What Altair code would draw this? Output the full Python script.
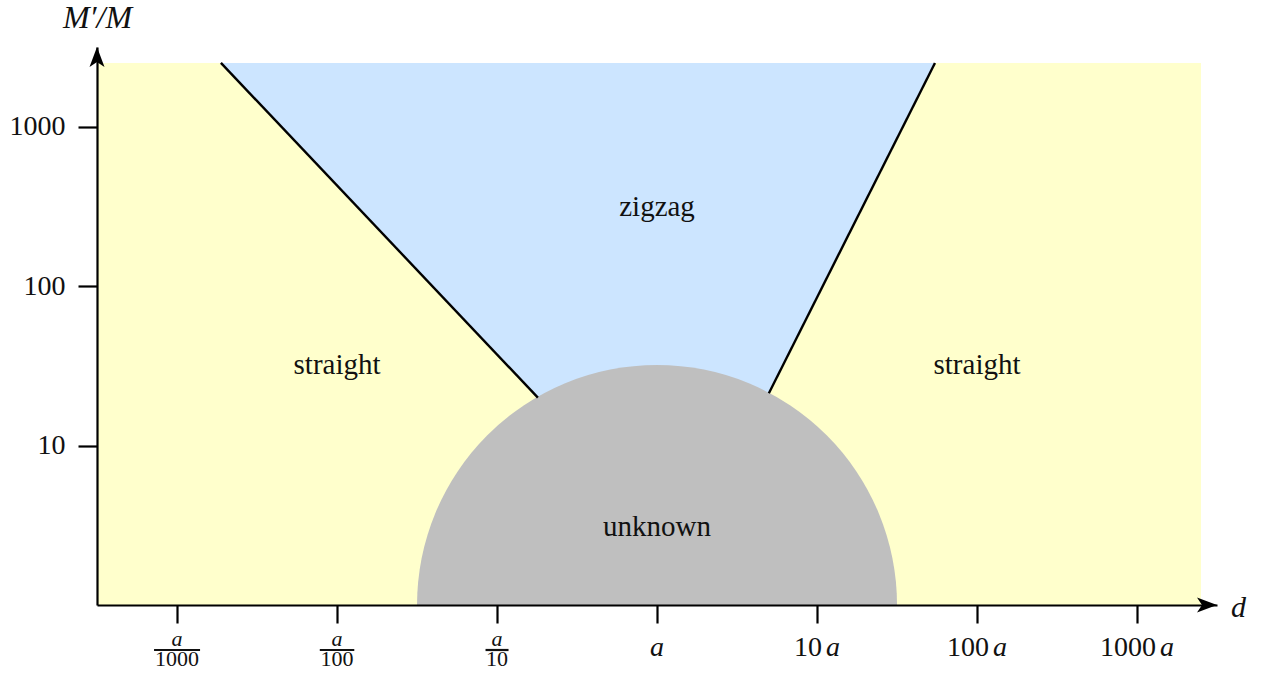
import altair as alt
import pandas as pd

# ---- plot geometry -------------------------------------------------------
W, H = 1120, 558                     # plot area (axis arrows end at its edges)
PAD = {"left": 97, "top": 47, "right": 44, "bottom": 70}
FONT = "Liberation Serif"
INK = "#111111"

# ---- axes: d in units of a, and M'/M --------------------------------------
X_DOMAIN = [0.000316, 3162]
Y_DOMAIN = [1, 3162]
X_TICKS = [0.001, 0.01, 0.1, 1, 10, 100, 1000]
Y_TICKS = [10, 100, 1000]

# fraction labels below the axis: a/1000, a/100, a/10
FRAC_VAL = [0.001, 0.01, 0.1]
FRAC_DEN = ["1000", "100", "10"]
# multiple labels: a, 10 a, 100 a, 1000 a
MULT_VAL = [1, 10, 100, 1000]
MULT_NUM = ["", "10", "100", "1000"]

# ---- regions ---------------------------------------------------------------
# shaded extent of the diagram
SHADE_D = [0.000316, 2512]
SHADE_M = [1, 2512]
# boundary lines between "straight" and "zigzag"
LEFT_D = [0.00188, 0.18]
LEFT_M = [2512, 20]
RIGHT_D = [5.0, 54.6]
RIGHT_M = [21.3, 2512]
TOP_M = 2512
# unknown region: half disc centred at d = a, M'/M = 1, radius 1.5 decades
DISC_D = [1]
DISC_M = [1]
DISC_RADIUS_DECADES = 1.5
# region names
REGION_NAME = ["straight", "zigzag", "straight", "unknown"]
REGION_D = [0.01, 1, 100, 1]
REGION_M = [32, 313, 32, 3.1]

YELLOW = "#ffffcc"
BLUE = "#cce5ff"
GREY = "#bfbfbf"

xs = alt.Scale(type="log", domain=X_DOMAIN, nice=False)
ys = alt.Scale(type="log", domain=Y_DOMAIN, nice=False)

x_axis = alt.Axis(
    values=X_TICKS, labels=False, grid=False,
    tickSize=18, tickWidth=2.2, tickColor="black",
    domainColor="black", domainWidth=2.2, zindex=1,
    title="d", titleFont=FONT, titleFontSize=30, titleFontStyle="italic",
    titleFontWeight="normal", titleColor=INK,
    titleX=W + 21, titleY=2, titleAlign="center", titleBaseline="middle",
)
y_axis = alt.Axis(
    values=Y_TICKS, format="d", grid=False,
    tickSize=19, tickWidth=2.2, tickColor="black",
    domainColor="black", domainWidth=2.2, zindex=1,
    labelFont=FONT, labelFontSize=28, labelColor=INK, labelPadding=13,
    labelOverlap=False, labelFlush=False,
    title="M\u2032/M", titleFont=FONT, titleFontSize=32, titleFontStyle="italic",
    titleFontWeight="normal", titleColor=INK, titleAngle=0,
    titleX=0, titleY=-30, titleAlign="center", titleBaseline="middle",
)


def X(field):
    return alt.X(field, type="quantitative", scale=xs, axis=x_axis)


def Y(field):
    return alt.Y(field, type="quantitative", scale=ys, axis=y_axis)


# background of the diagram
shade = alt.Chart(pd.DataFrame({
    "d": [SHADE_D[0]], "d2": [SHADE_D[1]], "m": [SHADE_M[0]], "m2": [SHADE_M[1]],
})).mark_rect(color=YELLOW).encode(
    x=X("d"), x2="d2", y=Y("m"), y2="m2",
)

# zigzag wedge between the two boundary lines
wedge = alt.Chart(pd.DataFrame({
    "d": LEFT_D + RIGHT_D,
    "m": LEFT_M + RIGHT_M,
    "top": [TOP_M] * 4,
})).mark_area(color=BLUE, opacity=1).encode(
    x=X("d"), y=Y("m"), y2="top",
)

# unknown half disc, the lower half cut off by the plot edge
px_per_decade = W / 7.0
disc = alt.Chart(pd.DataFrame({"d": DISC_D, "m": DISC_M})).mark_point(
    shape="circle", filled=True, color=GREY, opacity=1, strokeWidth=0,
    size=(2 * DISC_RADIUS_DECADES * px_per_decade) ** 2, clip=True,
).encode(x=X("d"), y=Y("m"))

# boundary lines
lines = alt.Chart(pd.DataFrame({
    "d": LEFT_D + RIGHT_D,
    "m": LEFT_M + RIGHT_M,
    "side": ["left", "left", "right", "right"],
})).mark_line(color="black", strokeWidth=2.4).encode(
    x=X("d"), y=Y("m"), detail="side:N",
)

# region names
names = alt.Chart(pd.DataFrame({
    "d": REGION_D, "m": REGION_M, "name": REGION_NAME,
})).mark_text(font=FONT, fontSize=29, color=INK, baseline="middle").encode(
    x=X("d"), y=Y("m"), text="name:N",
)

# fraction tick labels: numerator, bar, denominator
frac_df = pd.DataFrame({"d": FRAC_VAL, "den": FRAC_DEN})
frac_num = alt.Chart(frac_df).mark_text(
    font=FONT, fontSize=22, fontStyle="italic", color=INK, baseline="alphabetic",
).encode(x=X("d"), y=alt.value(H + 41), text=alt.value("a"))
frac_bar = alt.Chart(frac_df).transform_calculate(
    barw="length(datum.den) * 11.5"
).mark_tick(orient="horizontal", thickness=2.2, color=INK, opacity=1).encode(
    x=X("d"), y=alt.value(H + 45), size=alt.Size("barw:Q", scale=None),
)
frac_den = alt.Chart(frac_df).mark_text(
    font=FONT, fontSize=22, color=INK, baseline="alphabetic",
).encode(x=X("d"), y=alt.value(H + 61), text="den:N")

# multiple tick labels: upright number followed by italic a
DIGIT_W, A_W, GAP = 14, 14, 4
mult_layers = []
for val, num in zip(MULT_VAL, MULT_NUM):
    n = len(num)
    total = DIGIT_W * n + (GAP if n else 0) + A_W
    left = -total / 2
    row = pd.DataFrame({"d": [val], "num": [num]})
    if n:
        mult_layers.append(
            alt.Chart(row).mark_text(
                font=FONT, fontSize=28, color=INK, align="right",
                baseline="alphabetic", dx=left + DIGIT_W * n,
            ).encode(x=X("d"), y=alt.value(H + 51), text="num:N")
        )
    mult_layers.append(
        alt.Chart(row).mark_text(
            font=FONT, fontSize=28, fontStyle="italic", color=INK, align="left",
            baseline="alphabetic", dx=left + (DIGIT_W * n + GAP if n else 0),
        ).encode(x=X("d"), y=alt.value(H + 51), text=alt.value("a"))
    )

# arrow heads at the ends of both axes
arrow_x = alt.Chart(pd.DataFrame({"d": [X_DOMAIN[1]], "m": [Y_DOMAIN[0]]})).mark_point(
    shape="M0,0L-2,-0.75L-1.5,0L-2,0.75Z", filled=True, color="black",
    opacity=1, size=400, strokeWidth=0,
).encode(x=X("d"), y=Y("m"))
arrow_y = alt.Chart(pd.DataFrame({"d": [X_DOMAIN[0]], "m": [Y_DOMAIN[1]]})).mark_point(
    shape="M0,0L0.75,2L0,1.5L-0.75,2Z", filled=True, color="black",
    opacity=1, size=400, strokeWidth=0,
).encode(x=X("d"), y=Y("m"))

chart = alt.layer(
    shade, wedge, disc, lines, names,
    frac_num, frac_bar, frac_den, *mult_layers,
    arrow_x, arrow_y,
).properties(
    width=W, height=H, padding=PAD, autosize="none", background="white",
).configure_view(stroke=None)

chart.save("out.html", embed_options={"renderer": "svg", "actions": False})
